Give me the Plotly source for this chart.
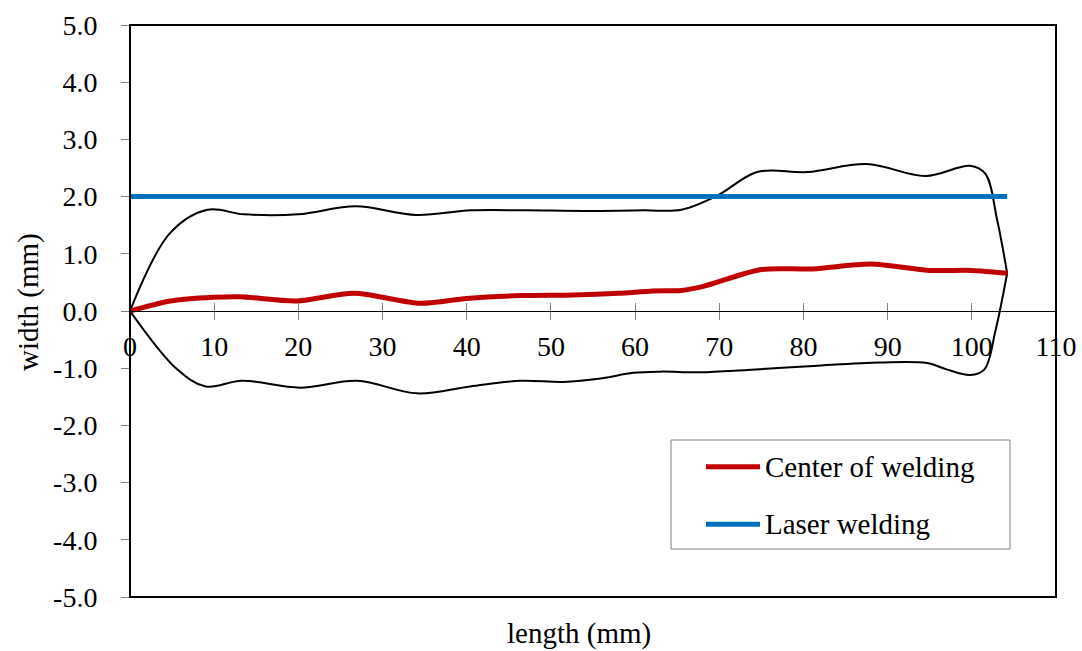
import plotly.graph_objects as go

# ---- data -------------------------------------------------------------
# upper edge of the weld bead (mm)
upper_x = [0, 4.8, 9.2, 13.5, 20.0, 26.8, 34.0, 40.5, 47.0, 54.0, 61.0, 65.5,
           69.8, 74.5, 80.5, 87.5, 94.5, 99.8, 101.6, 103.0, 104.2]
upper_y = [0.00, 1.37, 1.77, 1.69, 1.69, 1.83, 1.68, 1.76, 1.76, 1.75, 1.76, 1.77,
           2.02, 2.43, 2.43, 2.57, 2.36, 2.54, 2.40, 1.60, 0.66]

# lower edge of the weld bead (mm)
lower_x = [0, 5.6, 9.0, 13.3, 20.2, 27.0, 34.1, 40.4, 46.4, 51.5, 55.9,
           59.8, 63.0, 67.7, 73.3, 81.2, 89.1, 94.7, 97.0, 99.8, 101.5, 102.8, 104.2]
lower_y = [0, -1.02, -1.32, -1.22, -1.34, -1.22, -1.44, -1.32, -1.22, -1.24, -1.18,
           -1.08, -1.06, -1.07, -1.03, -0.96, -0.90, -0.91, -1.02, -1.12, -1.02, -0.35, 0.66]

# centre line of the weld (mm)
center_x = [0, 4.8, 9.9, 13.1, 19.8, 26.6, 34.5, 40.0, 46.4, 52.6, 58.0, 62.1,
            65.5, 68.1, 75.0, 81.1, 88.0, 94.9, 100.0, 104.2]
center_y = [0, 0.175, 0.24, 0.25, 0.175, 0.31, 0.135, 0.22, 0.27, 0.28, 0.31, 0.35,
            0.36, 0.43, 0.725, 0.735, 0.82, 0.71, 0.71, 0.66]

# programmed laser path (mm)
laser_x = [0, 104.2]
laser_y = [2.0, 2.0]

x_ticks = [0, 10, 20, 30, 40, 50, 60, 70, 80, 90, 100, 110]
y_ticks = [5, 4, 3, 2, 1, 0, -1, -2, -3, -4, -5]
y_tick_text = ["%.1f" % v for v in y_ticks]

RED = "#C00000"
BLUE = "#0070C0"
FONT = "Liberation Serif, Times New Roman, serif"

W, H = 1082, 651
L, R, T, B = 130, 1056, 25, 597


def px(xp):
    return (xp - L) / (R - L)


def py(yp):
    return (B - yp) / (B - T)


fig = go.Figure()

fig.add_trace(go.Scatter(x=upper_x, y=upper_y, mode="lines",
                         line=dict(color="black", width=2, shape="spline", smoothing=1.0),
                         showlegend=False, hoverinfo="skip"))
fig.add_trace(go.Scatter(x=lower_x, y=lower_y, mode="lines",
                         line=dict(color="black", width=2, shape="spline", smoothing=1.0),
                         showlegend=False, hoverinfo="skip"))
fig.add_trace(go.Scatter(x=laser_x, y=laser_y, mode="lines", name="Laser welding",
                         line=dict(color=BLUE, width=5), showlegend=False))
fig.add_trace(go.Scatter(x=center_x, y=center_y, mode="lines", name="Center of welding",
                         line=dict(color=RED, width=5, shape="spline", smoothing=0.8),
                         showlegend=False))

# x axis crossing at y = 0, ticks drawn through the line
fig.update_layout(
    xaxis=dict(range=[0, 110], tickmode="array", tickvals=x_ticks,
               ticktext=[str(v) for v in x_ticks],
               anchor="free", position=0.5, showline=True, linecolor="black",
               linewidth=1, ticks="outside", ticklen=8, tickcolor="#808080",
               tickwidth=1, showgrid=False, zeroline=False, ticklabelstandoff=2,
               automargin=False,
               tickfont=dict(family=FONT, size=28, color="black")),
    xaxis2=dict(range=[0, 110], overlaying="x", matches="x", anchor="free",
                position=0.5, tickmode="array", tickvals=x_ticks, ticks="inside",
                ticklen=8, tickcolor="#808080", tickwidth=1, showticklabels=False,
                showline=False, showgrid=False, zeroline=False, automargin=False),
    yaxis=dict(range=[-5, 5], tickmode="array", tickvals=y_ticks, ticktext=y_tick_text,
               showline=False, ticks="outside", ticklen=8, tickcolor="#808080",
               tickwidth=1, showgrid=False, zeroline=False, ticklabelstandoff=18,
               automargin=False,
               tickfont=dict(family=FONT, size=28, color="black")),
)
fig.add_trace(go.Scatter(x=[None], y=[None], xaxis="x2", showlegend=False, hoverinfo="skip"))

# plot-area frame
fig.add_shape(type="rect", xref="paper", yref="paper", x0=0, x1=1, y0=0, y1=1,
              line=dict(color="black", width=2), layer="above")

# legend box
fig.add_shape(type="rect", xref="paper", yref="paper",
              x0=px(671), x1=px(1010), y0=py(549), y1=py(440),
              line=dict(color="#808080", width=1), fillcolor="white", layer="above")
legend_items = [("Center of welding", RED, 466.7), ("Laser welding", BLUE, 524.3)]
for label, color, yp in legend_items:
    fig.add_shape(type="line", xref="paper", yref="paper",
                  x0=px(706), x1=px(760), y0=py(yp), y1=py(yp),
                  line=dict(color=color, width=5), layer="above")
    fig.add_annotation(text=label, xref="paper", yref="paper", x=px(763), y=py(yp),
                       xanchor="left", yanchor="middle", showarrow=False,
                       font=dict(family=FONT, size=29, color="black"))

# axis titles
fig.add_annotation(text="width (mm)", xref="paper", yref="paper", x=px(28), y=py(302),
                   textangle=-90, showarrow=False, xanchor="center", yanchor="middle",
                   font=dict(family=FONT, size=29, color="black"))
fig.add_annotation(text="length (mm)", xref="paper", yref="paper", x=px(579), y=py(634),
                   showarrow=False, xanchor="center", yanchor="middle",
                   font=dict(family=FONT, size=29, color="black"))

fig.update_layout(width=W, height=H, margin=dict(l=L, r=W - R, t=T, b=H - B),
                  plot_bgcolor="white", paper_bgcolor="white", showlegend=False)

fig.write_html("out.html")
